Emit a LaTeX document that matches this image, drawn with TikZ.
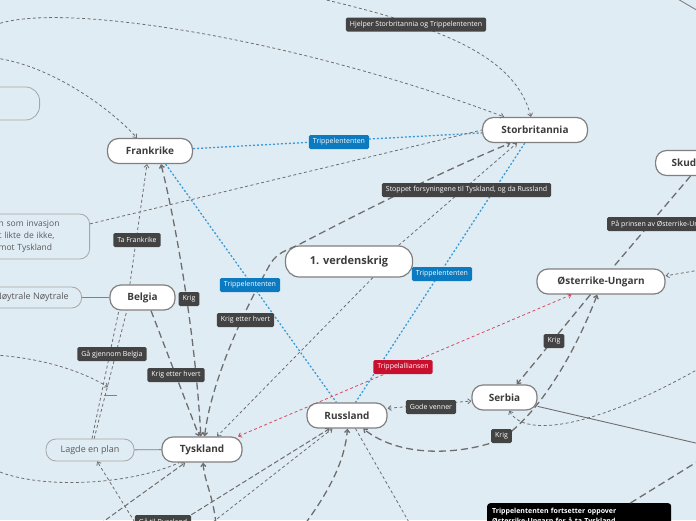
\documentclass[tikz,border=0pt]{standalone}
\usepackage{fontspec}
\setmainfont{Open Sans}
\usepackage{tikz}
\usetikzlibrary{arrows.meta}
\definecolor{bgblue}{RGB}{224,236,243}
\definecolor{edgegrey}{RGB}{110,110,110}
\definecolor{tagdark}{RGB}{67,67,67}
\definecolor{tagblue}{RGB}{11,122,192}
\definecolor{tagred}{RGB}{200,16,46}
\definecolor{linkblue}{RGB}{61,154,214}
\definecolor{linkred}{RGB}{212,74,100}
\definecolor{nodetext}{RGB}{60,60,60}

\begin{document}
\begin{tikzpicture}[x=1pt,y=-1pt,>={Straight Barb[length=3pt,width=5pt]}]
            \tikzstyle{main node}=[draw=gray,fill=white,line width=1.2pt,rounded corners=11pt,minimum height=25pt,inner xsep=4pt,text=nodetext,font=\bfseries\fontsize{10}{12}\selectfont]
            \tikzstyle{sub node}=[draw=gray!70,line width=0.8pt,rounded corners=10pt,inner xsep=6pt,text=black!65,font=\fontsize{9}{11}\selectfont]
            \tikzstyle{tag}=[fill=tagdark,text=white,rounded corners=1.5pt,inner xsep=4pt,inner ysep=0pt,minimum height=14pt,font=\fontsize{7}{8}\selectfont]
            \tikzstyle{heavy link}=[draw=edgegrey,line width=1.3pt,dash pattern=on 7pt off 4pt]
            \tikzstyle{medium link}=[draw=edgegrey,line width=1pt,dash pattern=on 5pt off 2.5pt]
            \tikzstyle{light link}=[draw=edgegrey,line width=0.8pt,dash pattern=on 3pt off 2.5pt]
            \tikzstyle{blue link}=[draw=linkblue,line width=1.3pt,dash pattern=on 2pt off 2pt]
            \tikzstyle{red link}=[draw=linkred,line width=0.8pt,dash pattern=on 3pt off 2.5pt]
            \tikzstyle{plain link}=[draw=gray,line width=0.9pt]

            \fill[bgblue] (0,0) rectangle (696,520);
            \useasboundingbox (0,0) rectangle (696,520);

            \node[main node,minimum width=85pt] (frk) at (150,151) {Frankrike};
            \node[main node,minimum width=105pt] (stb) at (535,130) {Storbritannia};
            \node[main node,anchor=west,inner xsep=16pt,text width=60pt,align=left] (skud) at (655,163) {Skud};
            \node[main node,minimum width=127pt,minimum height=31pt,rounded corners=14pt,font=\bfseries\fontsize{11}{13}\selectfont] (verd) at (349,261.5) {1. verdenskrig};
            \node[main node,minimum width=128pt] (ost) at (601,281.5) {Østerrike-Ungarn};
            \node[main node,minimum width=65pt] (bel) at (142.5,297.5) {Belgia};
            \node[main node,minimum width=65pt] (ser) at (504.5,397.5) {Serbia};
            \node[main node,minimum width=80pt] (rus) at (347,415.5) {Russland};
            \node[main node,minimum width=80pt] (tys) at (202,449.5) {Tyskland};

            \node[sub node,minimum width=88pt,minimum height=22pt] (plan) at (90,450) {Lagde en plan};
            \node[sub node,anchor=east,minimum height=21pt,inner xsep=13pt] (noy) at (82,297.5) {Nøytrale Nøytrale};
            \node[sub node,anchor=east,minimum height=45pt,text width=77pt,align=left,inner xsep=14pt,font=\fontsize{8.5}{12}\selectfont] (mlt) at (90,236.5) {n som invasjon\\t likte de ikke,\\mot Tyskland};
            \node[sub node,anchor=east,minimum width=100pt,minimum height=33pt,rounded corners=14pt] (tom) at (40,103.5) {};
            \node[anchor=north west,fill=black,rounded corners=3pt,text=white,text width=174pt,inner sep=5pt,align=left,font=\bfseries\fontsize{7}{10}\selectfont] (blk) at (487,503) {Trippelententen fortsetter oppover\\Østerrike-Ungarn for å ta Tyskland};
            \node[tag] (lga) at (163,522) {Gå til Russland};

            \coordinate (A) at (-5,25);
            \coordinate (B) at (300,-6);
            \coordinate (C) at (-5,58);
            \coordinate (D) at (-5,355);
            \coordinate (E) at (108,387);
            \coordinate (F1) at (104,395);
            \coordinate (F2) at (117,395);
            \coordinate (G) at (-5,470);
            \coordinate (H) at (100,524);
            \coordinate (I) at (216,524);
            \coordinate (J) at (213,522);
            \coordinate (K) at (305,524);
            \coordinate (L) at (410,524);
            \coordinate (M) at (700,444);
            \coordinate (N) at (700,368);
            \coordinate (P) at (700,460);
            \coordinate (Q) at (700,270);
            \coordinate (R1) at (676,-2);
            \coordinate (R2) at (700,12);

            \draw[light link,->] (A) .. controls (60,0) and (300,40) .. (stb.157);
            \draw[light link,->] (B) .. controls (440,25) and (515,55) .. (stb.107);
            \draw[light link,->] (C) .. controls (50,65) and (110,108) .. (frk.135);
            \draw[blue link] (frk) -- (stb);
            \draw[light link] (mlt) -- (stb.west);
            \draw[heavy link,<->] (tys.79) .. controls (212,375) and (250,300) .. (268,268) .. controls (276,252) and (286,251) .. (300,244) .. controls (350,218) and (440,172) .. (stb.208);
            \draw[light link,->] (verd.18) -- (stb.216);
            \draw[light link,->] (verd.326) -- (tys.41);
            \draw[blue link] (stb.232) -- (rus.57);
            \draw[blue link] (frk.320) -- (rus.129);
            \draw[heavy link,<->] (frk.310) .. controls (175,220) and (195,330) .. (tys.95);
            \draw[light link,->] (bel.134) -- (frk.257);
            \draw[plain link] (noy) -- (bel);
            \draw[heavy link,->] (bel.303) -- (tys.102);
            \draw[light link] (plan.80) -- (bel.209);
            \draw[light link] (plan.70) -- (bel.220);
            \draw[light link,->] (D) .. controls (40,358) and (80,370) .. (E);
            \draw[plain link,line width=0.6pt] (F1) -- (F2);
            \draw[plain link] (plan) -- (tys);
            \draw[light link,->] (lga.west) -- (plan.302);
            \draw[light link] (G) .. controls (40,490) and (130,485) .. (tys.210);
            \draw[medium link,->] (H) -- (tys.218);
            \draw[heavy link,->] (I) .. controls (213,495) and (204,480) .. (tys.275);
            \draw[medium link,->] (lga.north east) -- (rus.217);
            \draw[light link,->] (J) -- (rus.222);
            \draw[heavy link,->] (K) .. controls (330,490) and (345,460) .. (rus.272);
            \draw[light link] (rus.303) -- (L);
            \draw[light link,<->] (rus.10) -- (ser.186);
            \draw[heavy link,<->] (ost.254) .. controls (580,340) and (545,410) .. (500,440) .. controls (460,455) and (400,458) .. (rus.321);
            \draw[heavy link,->] (ost.231) -- (ser.47);
            \draw[plain link,draw=edgegrey] (ser.345) -- (M);
            \draw[light link,->] (N) .. controls (600,425) and (525,440) .. (ser.290);
            \draw[heavy link] (blk.15) -- (P);
            \draw[light link,->] (Q) -- (ost.5);
            \draw[heavy link] (skud) -- (ost);
            \draw[red link,<->] (ost.204) -- (tys.20);
            \draw[plain link] (R1) -- (R2);

            \node[tag] (lhj) at (416,24.5) {Hjelper Storbritannia og Trippelententen};
            \node[tag,fill=tagblue] (lt1) at (339,142) {Trippelententen};
            \node[tag] (lstop) at (466.5,190) {Stoppet forsyningene til Tyskland, og da Russland};
            \node[tag,anchor=west] (lprins) at (607,224) {På prinsen av Østerrike-Ungarn};
            \node[tag] (ltafr) at (137,240) {Ta Frankrike};
            \node[tag,fill=tagblue] (lt2) at (250,285) {Trippelententen};
            \node[tag,fill=tagblue] (lt3) at (442,274) {Trippelententen};
            \node[tag] (lkrig1) at (189,299) {Krig};
            \node[tag] (lkeh1) at (245.5,320) {Krig etter hvert};
            \node[tag] (lgjen) at (112,354) {Gå gjennom Belgia};
            \node[tag] (lkeh2) at (176,375) {Krig etter hvert};
            \node[tag,fill=tagred] (lall) at (403,367) {Trippelalliansen};
            \node[tag] (lkrig2) at (554,341) {Krig};
            \node[tag] (lgode) at (431,407) {Gode venner};
            \node[tag] (lkrig3) at (501.5,436) {Krig};
        \end{tikzpicture}
\end{document}
